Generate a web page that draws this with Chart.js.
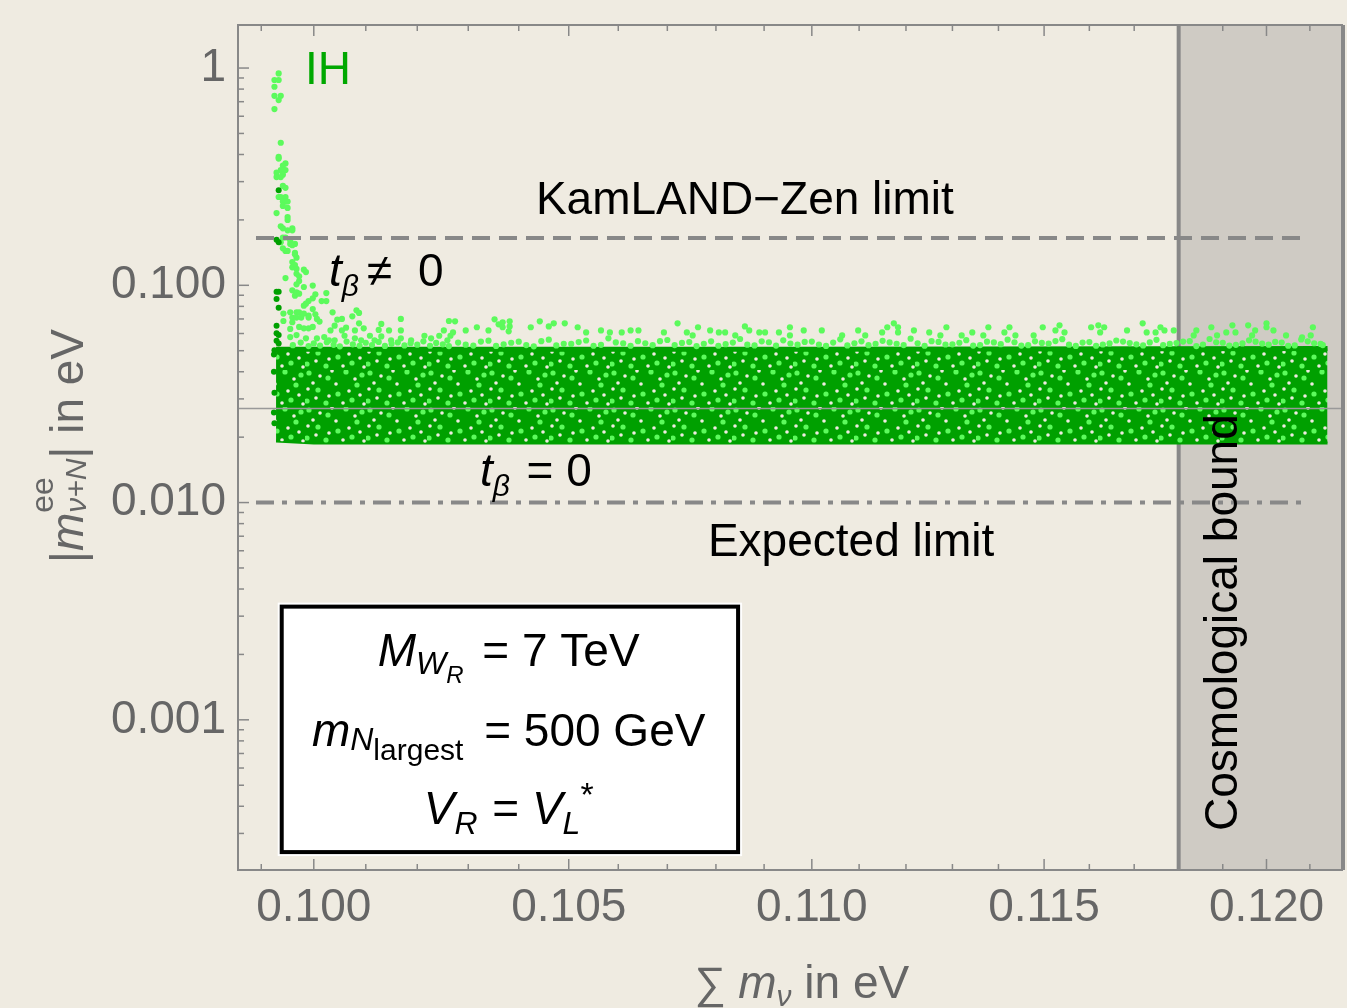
<!DOCTYPE html>
<html>
<head>
<meta charset="utf-8">
<script src="https://cdn.jsdelivr.net/npm/chart.js@4.4.0/dist/chart.umd.min.js"></script>
<style>
  html, body { margin: 0; padding: 0; background: #efebe1; }
  canvas { display: block; }
</style>
</head>
<body>
<canvas id="chart" width="1347" height="1008"></canvas>
<script>
// axis ranges and ticks (both axes logarithmic)
const xRange = [0.09856, 0.12177];
const yRange = [0.0002036, 1.578];
const xTicks = [0.100, 0.105, 0.110, 0.115, 0.120];
const xTickLabels = ["0.100", "0.105", "0.110", "0.115", "0.120"];
const xMinorTicks = [0.099, 0.101, 0.102, 0.103, 0.104, 0.106, 0.107, 0.108, 0.109,
  0.111, 0.112, 0.113, 0.114, 0.116, 0.117, 0.118, 0.119, 0.121];
const yTicks = [0.001, 0.01, 0.1, 1];
const yTickLabels = ["0.001", "0.010", "0.100", "1"];
const yMinorTicks = [0.0003, 0.0004, 0.0005, 0.0006, 0.0007, 0.0008, 0.0009,
  0.002, 0.003, 0.004, 0.005, 0.006, 0.007, 0.008, 0.009,
  0.02, 0.03, 0.04, 0.05, 0.06, 0.07, 0.08, 0.09,
  0.2, 0.3, 0.4, 0.5, 0.6, 0.7, 0.8, 0.9];

// reference lines
const kamlandLimit = 0.165;
const expectedLimit = 0.010;
const limitSpan = [0.0989, 0.1209];
const cosmoBound = 0.118;
const axisOriginY = 0.0271;

// dense t_beta = 0 band (lower / upper edge)
const bandX = [0.09928, 0.1000, 0.1100, 0.12141];
const bandTop = [0.0508, 0.0508, 0.0508, 0.0512];
const bandBottom = [0.0192, 0.0188, 0.0188, 0.0188];

// scattered t_beta != 0 points, [sum m_nu, |m_ee|]
const spikePoints = [
  [0.09933,0.945],[0.09925,0.881],[0.09933,0.881],[0.09925,0.820],[0.09925,0.745],[0.09937,0.745],
  [0.09933,0.712],[0.09925,0.647],[0.09937,0.453],[0.09933,0.390],[0.09933,0.383],[0.09946,0.364],
  [0.09941,0.356],[0.09937,0.339],[0.09946,0.339],[0.09929,0.330],[0.09941,0.323],[0.09929,0.315],
  [0.09937,0.315],[0.09941,0.287],[0.09946,0.281],[0.09933,0.255],[0.09937,0.255],[0.09946,0.255],
  [0.09941,0.243],[0.09946,0.243],[0.09950,0.243],[0.09941,0.232],[0.09950,0.227],[0.09929,0.215],
  [0.09950,0.206],[0.09950,0.200],[0.09937,0.187],[0.09941,0.183],[0.09959,0.183],[0.09950,0.179],
  [0.09959,0.179],[0.09941,0.166],[0.09946,0.166],[0.09937,0.158],[0.09955,0.161],[0.09955,0.155],
  [0.09964,0.155],[0.09941,0.148],[0.09946,0.144],[0.09964,0.141],[0.09967,0.134],[0.09959,0.153],
  [0.09950,0.144],[0.09964,0.139],[0.09959,0.128],[0.09964,0.124],[0.09959,0.121],[0.09967,0.119],
  [0.09981,0.118],[0.09985,0.115],[0.09967,0.113],[0.09972,0.110],[0.09946,0.108],[0.09972,0.1046]
];
const tailPoints = [
  [0.09967,0.101],[0.09998,0.0997],[0.09981,0.0982],[0.09959,0.0948],[0.09967,0.0929],[0.09964,0.0896],
  [0.09972,0.0915],[0.10003,0.0909],[0.09998,0.0871],[0.10024,0.0921],[0.09990,0.0846],[0.09985,0.0823],
  [0.09981,0.0806],[0.10024,0.0846],[0.10015,0.0846],[0.09998,0.0777],[0.10036,0.0751],[0.09955,0.0751],
  [0.09967,0.0751],[0.09972,0.0751],[0.09981,0.0741],[0.09942,0.0741],[0.09990,0.0725],[0.10003,0.0735],
  [0.09959,0.0710],[0.09967,0.0710],[0.09976,0.0710],[0.09990,0.0710],[0.10006,0.0700],[0.10011,0.0681],
  [0.10045,0.0695],[0.10054,0.0700],[0.10074,0.0720],[0.10082,0.0767],[0.10087,0.0746],[0.10168,0.0700],
  [0.10262,0.0685],[0.09942,0.0685],[0.09959,0.0676],[0.09972,0.0643],[0.09981,0.0634],[0.09955,0.0630],
  [0.09990,0.0634],[0.09998,0.0643],[0.10040,0.0652],[0.10062,0.0638],[0.10087,0.0668],[0.10096,0.0634],
  [0.10130,0.0664],[0.10125,0.0623],[0.10145,0.0620],[0.10168,0.0620],[0.10079,0.0620],[0.10054,0.0620],
  [0.10032,0.0620],[0.09955,0.0578],[0.09967,0.0590],[0.09985,0.0570],[0.10006,0.0570],[0.10020,0.0578],
  [0.10029,0.0558],[0.10040,0.0558],[0.10059,0.0586],[0.10079,0.0570],[0.10091,0.0558],[0.10108,0.0586],
  [0.10117,0.0558],[0.10130,0.0582],[0.10149,0.0558],[0.10168,0.0570],[0.10188,0.0558],[0.10214,0.0586],
  [0.10227,0.0570],[0.10243,0.0586],[0.10259,0.0558],[0.10265,0.0586],
  [0.09960,0.0530],[0.09975,0.0545],[0.09990,0.0525],[0.10000,0.0540],[0.10012,0.0528],[0.10025,0.0547],
  [0.10038,0.0532],[0.10050,0.0524],[0.10063,0.0551],[0.10075,0.0535],[0.10088,0.0527],[0.10100,0.0544],
  [0.10112,0.0531],[0.10125,0.0549],[0.10137,0.0526],[0.10150,0.0538],[0.10162,0.0546],[0.10175,0.0529],
  [0.10187,0.0541],[0.10200,0.0533],[0.10212,0.0552],[0.10225,0.0527],[0.10237,0.0543],[0.10250,0.0535],
  [0.10262,0.0525]
];
const fringePoints = [
  [0.10352,0.0697],[0.10368,0.0676],[0.10360,0.0661],[0.10382,0.0683],[0.10382,0.0647],[0.10368,0.0641],
  [0.10380,0.0614],[0.10274,0.0683],[0.10252,0.0620],[0.10270,0.0607],[0.10295,0.0620],[0.10317,0.0641],
  [0.10340,0.0620],[0.10442,0.0683],[0.10424,0.0641],[0.10470,0.0668],[0.10460,0.0647],[0.10492,0.0668],
  [0.10518,0.0641],[0.10535,0.0607],[0.10565,0.0620],[0.10583,0.0607],[0.10607,0.0607],[0.10625,0.0620],
  [0.10641,0.0620],[0.10721,0.0668],[0.10693,0.0607],[0.10763,0.0641],[0.10740,0.0607],[0.10752,0.0588],
  [0.10788,0.0620],[0.10806,0.0607],[0.10819,0.0607],[0.10840,0.0588],
  [0.10860,0.0647],[0.10869,0.0620],[0.10890,0.0607],[0.10902,0.0607],[0.10931,0.0607],[0.10954,0.0641],
  [0.10954,0.0588],[0.10983,0.0620],[0.11021,0.0620],[0.11064,0.0588],[0.11098,0.0620],[0.11113,0.0588],
  [0.11149,0.0607],[0.11174,0.0668],[0.11183,0.0607],[0.11183,0.0641],[0.11160,0.0641],[0.11217,0.0620],
  [0.11250,0.0607],[0.11287,0.0641],[0.11274,0.0588],[0.11320,0.0588],[0.11343,0.0607],[0.11378,0.0641],
  [0.11367,0.0588],[0.11424,0.0641],[0.11413,0.0607],[0.11437,0.0588],
  [0.11497,0.0641],[0.11534,0.0654],[0.11525,0.0620],[0.11477,0.0588],[0.11545,0.0607],[0.11604,0.0641],
  [0.11620,0.0654],[0.11624,0.0607],[0.11633,0.0641],[0.11684,0.0620],[0.11719,0.0668],[0.11728,0.0607],
  [0.11748,0.0607],[0.11759,0.0641],[0.11768,0.0620],[0.11789,0.0620],[0.11840,0.0620],[0.11874,0.0641],
  [0.11834,0.0588],[0.11922,0.0654],[0.11958,0.0654],[0.12000,0.0668],[0.12000,0.0641],[0.11974,0.0620],
  [0.12016,0.0620],[0.12045,0.0588],[0.12082,0.0576],[0.12107,0.0641],[0.12102,0.0588],[0.11908,0.0607],
  [0.11887,0.0588],[0.11967,0.0588],[0.11929,0.0607],
  [0.1028,0.0545],[0.1031,0.0528],[0.1034,0.0556],[0.1037,0.0535],[0.1040,0.0550],[0.1043,0.0524],
  [0.1046,0.0562],[0.1049,0.0538],[0.1052,0.0548],[0.1055,0.0527],[0.1058,0.0570],[0.1061,0.0540],
  [0.1064,0.0553],[0.1067,0.0530],[0.1070,0.0560],[0.1073,0.0543],[0.1076,0.0525],[0.1079,0.0552],
  [0.1082,0.0536],[0.1085,0.0566],[0.1088,0.0529],[0.1091,0.0547],[0.1094,0.0558],[0.1097,0.0533],
  [0.1100,0.0551],[0.1103,0.0526],[0.1106,0.0564],[0.1109,0.0541],[0.1112,0.0530],[0.1115,0.0555],
  [0.1118,0.0538],[0.1121,0.0568],[0.1124,0.0527],[0.1127,0.0549],[0.1130,0.0535],[0.1133,0.0559],
  [0.1136,0.0531],[0.1139,0.0546],[0.1142,0.0562],[0.1145,0.0528],[0.1148,0.0552],[0.1151,0.0539],
  [0.1154,0.0565],[0.1157,0.0526],[0.1160,0.0548],[0.1163,0.0534],[0.1166,0.0557],[0.1169,0.0542],
  [0.1172,0.0529],[0.1175,0.0561],[0.1178,0.0537],[0.1181,0.0551],[0.1184,0.0525],[0.1187,0.0566],
  [0.1190,0.0544],[0.1193,0.0532],[0.1196,0.0558],[0.1199,0.0539],[0.1202,0.0549],[0.1205,0.0527],
  [0.1208,0.0563],[0.1211,0.0541],[0.1213,0.0531],
  [0.10295,0.0533],[0.10325,0.0551],[0.10355,0.0526],[0.10385,0.0544],[0.10415,0.0531],[0.10445,0.0553],
  [0.10475,0.0529],[0.10505,0.0537],[0.10535,0.0557],[0.10565,0.0532],[0.10595,0.0546],[0.10625,0.0527],
  [0.10655,0.0541],[0.10685,0.0553],[0.10715,0.0531],[0.10745,0.0548],[0.10775,0.0538],[0.10805,0.0527],
  [0.10835,0.0545],[0.10865,0.0533],[0.10895,0.0552],[0.10925,0.0528],[0.10955,0.0539],[0.10985,0.0549],
  [0.11015,0.0534],[0.11045,0.0545],[0.11075,0.0529],[0.11105,0.0552],[0.11135,0.0537],[0.11165,0.0546],
  [0.11195,0.0531],[0.11225,0.0541],[0.11255,0.0553],[0.11285,0.0534],[0.11315,0.0544],[0.11345,0.0528],
  [0.11375,0.0550],[0.11405,0.0536],[0.11435,0.0547],[0.11465,0.0530],[0.11495,0.0543],[0.11525,0.0554],
  [0.11555,0.0533],[0.11585,0.0545],[0.11615,0.0527],[0.11645,0.0540],[0.11675,0.0551],[0.11705,0.0535],
  [0.11735,0.0546],[0.11765,0.0530],[0.11795,0.0542],[0.11825,0.0553],[0.11855,0.0534],[0.11885,0.0547],
  [0.11915,0.0528],[0.11945,0.0540],[0.11975,0.0550],[0.12005,0.0533],[0.12035,0.0545],[0.12065,0.0529],
  [0.12095,0.0552],[0.12125,0.0537]
];
// dark green points at the left edge of the band
const edgePoints = [
  [0.09933,0.274],[0.09929,0.162],[0.09933,0.158],[0.09929,0.0935],[0.09933,0.0935],[0.09929,0.0865],
  [0.09933,0.0789],[0.09929,0.0652],[0.09933,0.0590],[0.09929,0.0601],[0.09925,0.0502],[0.09929,0.0555],
  [0.09933,0.0540],[0.09924,0.048],[0.09924,0.040],[0.09925,0.032],[0.09924,0.026],[0.09925,0.0232]
];

const BG = '#efebe1';
const DARK = '#00a000';
const LIGHT = '#5cfa5c';
const GREY = '#888888';
const TEXT_GREY = '#666666';
const FONT = '"Liberation Sans", Arial, sans-serif';
const f = (size, italic) => (italic ? 'italic ' : '') + size + 'px ' + FONT;

const toXY = pts => pts.map(p => ({ x: p[0], y: p[1] }));

// speckled fill for the dense band (coarse, like overlapping dots)
function bandPattern() {
  const t = document.createElement('canvas');
  t.width = 61; t.height = 37;
  const g = t.getContext('2d');
  g.fillStyle = DARK;
  g.fillRect(0, 0, 61, 37);
  g.fillStyle = LIGHT;
  [[4, 3], [23, 8], [41, 2], [13, 20], [33, 24], [52, 15], [2, 31], [21, 33], [47, 30], [57, 5]].forEach(([a, b]) => {
    g.beginPath(); g.arc(a, b, 2.6, 0, 7); g.fill();
  });
  g.fillStyle = BG;
  [[15, 6], [31, 14], [8, 13], [44, 21], [27, 1], [55, 25], [11, 28], [38, 33], [24, 26], [50, 9], [59, 34], [3, 19]].forEach(([a, b]) => {
    g.beginPath(); g.arc(a, b, 1.8, 0, 7); g.fill();
  });
  return g.createPattern(t, 'repeat');
}

// rich text: segments drawn left to right, "same" stacks on the previous segment
function drawRich(ctx, segs, x, y, align, color) {
  let prevStart = 0, prevEnd = 0;
  const items = segs.map(s => {
    ctx.font = s.font;
    const w = ctx.measureText(s.t).width;
    let start;
    if (s.same) { start = prevStart; prevEnd = Math.max(prevEnd, start + w); }
    else { start = prevEnd + (s.dx || 0); prevStart = start; prevEnd = start + w; }
    return { s, start };
  });
  const x0 = align === 'center' ? x - prevEnd / 2 : x;
  ctx.fillStyle = color;
  ctx.textAlign = 'left';
  ctx.textBaseline = 'alphabetic';
  items.forEach(({ s, start }) => {
    ctx.font = s.font;
    ctx.fillText(s.t, x0 + start, y + (s.dy || 0));
  });
}

const decor = {
  id: 'decor',
  beforeDraw(chart) {
    const c = chart.ctx;
    c.save();
    c.fillStyle = BG;
    c.fillRect(0, 0, chart.width, chart.height);
    c.restore();
  },
  afterDatasetsDraw(chart) {
    const c = chart.ctx, a = chart.chartArea;
    const xs = chart.scales.x, ys = chart.scales.y;
    const X = v => xs.getPixelForValue(v), Y = v => ys.getPixelForValue(v);
    c.save();

    // annotations
    drawRich(c, [{ t: 'IH', font: f(46) }], X(0.09983), Y(0.844), 'left', '#00a800');
    drawRich(c, [{ t: 'KamLAND\u2212Zen limit', font: f(46) }], X(0.1086), Y(0.212), 'center', '#000');
    drawRich(c, [
      { t: 't', font: f(46, true) },
      { t: '\u03b2', font: f(30, true), dy: 10 },
      { t: '\u2260', font: f(46), dx: 8 },
      { t: '0', font: f(46), dx: 26 }
    ], X(0.10029), Y(0.0997), 'left', '#000');
    drawRich(c, [
      { t: 't', font: f(46, true) },
      { t: '\u03b2', font: f(30, true), dy: 10 },
      { t: ' = 0', font: f(46), dx: 4 }
    ], X(0.10323), Y(0.01197), 'left', '#000');
    drawRich(c, [{ t: 'Expected limit', font: f(46) }], X(0.11083), Y(0.0057), 'center', '#000');

    c.save();
    c.translate(X(0.11932), Y(0.0028));
    c.rotate(-Math.PI / 2);
    drawRich(c, [{ t: 'Cosmological bound', font: f(46) }], 0, 0, 'center', '#000');
    c.restore();

    // parameter box
    const bx0 = X(0.09935), bx1 = X(0.1085), by0 = Y(0.00339), by1 = Y(0.000241);
    c.fillStyle = '#ffffff';
    c.fillRect(bx0 - 2, by0 - 2, bx1 - bx0 + 4, by1 - by0 + 4);
    c.strokeStyle = '#000';
    c.lineWidth = 4;
    c.strokeRect(bx0 + 2, by0 + 2, bx1 - bx0 - 4, by1 - by0 - 4);
    const bc = X(0.1038);
    drawRich(c, [
      { t: 'M', font: f(46, true) },
      { t: 'W', font: f(32, true), dy: 8 },
      { t: 'R', font: f(24, true), dy: 17 },
      { t: ' = 7 TeV', font: f(46), dx: 6 }
    ], bc, Y(0.001774), 'center', '#000');
    drawRich(c, [
      { t: 'm', font: f(46, true) },
      { t: 'N', font: f(32, true), dy: 4 },
      { t: 'largest', font: f(30), dy: 14 },
      { t: ' = 500 GeV', font: f(46), dx: 8 }
    ], bc, Y(0.000759), 'center', '#000');
    drawRich(c, [
      { t: 'V', font: f(46, true) },
      { t: 'R', font: f(32, true), dy: 10 },
      { t: ' = ', font: f(46), dx: 2 },
      { t: 'V', font: f(46, true) },
      { t: 'L', font: f(32, true), dy: 10 },
      { t: '*', font: f(34), dy: -18 }
    ], bc, Y(0.000332), 'center', '#000');

    // frame
    c.strokeStyle = GREY;
    c.lineWidth = 2;
    c.beginPath();
    c.moveTo(a.right, a.top); c.lineTo(a.left, a.top);
    c.lineTo(a.left, a.bottom); c.lineTo(a.right, a.bottom);
    c.stroke();
    c.lineWidth = 4;
    c.beginPath(); c.moveTo(a.right, a.top); c.lineTo(a.right, a.bottom); c.stroke();

    // inward ticks
    c.lineWidth = 1.5;
    const seg = (x1, y1, x2, y2) => { c.beginPath(); c.moveTo(x1, y1); c.lineTo(x2, y2); c.stroke(); };
    xTicks.forEach(v => { const p = X(v); seg(p, a.bottom, p, a.bottom - 11); seg(p, a.top, p, a.top + 11); });
    xMinorTicks.forEach(v => { const p = X(v); seg(p, a.bottom, p, a.bottom - 6); seg(p, a.top, p, a.top + 6); });
    yTicks.forEach(v => { const p = Y(v); seg(a.left, p, a.left + 11, p); });
    yMinorTicks.forEach(v => { const p = Y(v); seg(a.left, p, a.left + 6, p); });

    c.restore();
  },
  afterDraw(chart) {
    const c = chart.ctx, a = chart.chartArea;
    c.save();
    // x axis title
    drawRich(c, [
      { t: '\u2211', font: f(44) },
      { t: 'm', font: f(46, true), dx: 12 },
      { t: '\u03bd', font: f(30, true), dy: 8 },
      { t: ' in eV', font: f(46) }
    ], 802, a.bottom + 128, 'center', TEXT_GREY);
    // y axis title
    c.translate(83, 446);
    c.rotate(-Math.PI / 2);
    drawRich(c, [
      { t: '|', font: f(46) },
      { t: 'm', font: f(46, true) },
      { t: 'ee', font: f(32), dy: -30 },
      { t: '\u03bd+N', font: f(30, true), dy: 3, same: true },
      { t: '| in eV', font: f(46) }
    ], 0, 0, 'center', TEXT_GREY);
    c.restore();
  }
};

const yTop = yRange[1], yBot = yRange[0];

new Chart(document.getElementById('chart'), {
  type: 'scatter',
  data: {
    datasets: [
      {
        type: 'line', order: 20,
        data: [{ x: cosmoBound, y: yTop }, { x: xRange[1], y: yTop }],
        fill: 'start', backgroundColor: '#cfcbc4', borderWidth: 0, pointRadius: 0
      },
      {
        type: 'line', order: 19,
        data: [{ x: cosmoBound, y: yBot }, { x: cosmoBound, y: yTop }],
        borderColor: GREY, borderWidth: 4, pointRadius: 0, fill: false
      },
      {
        type: 'line', order: 15,
        data: bandX.map((x, i) => ({ x, y: bandTop[i] })),
        fill: '+1', backgroundColor: bandPattern(), borderColor: DARK, borderWidth: 5, pointRadius: 0
      },
      {
        type: 'line', order: 15,
        data: bandX.map((x, i) => ({ x, y: bandBottom[i] })),
        borderColor: DARK, borderWidth: 3, pointRadius: 0, fill: false
      },
      {
        order: 12,
        data: toXY(spikePoints.concat(tailPoints, fringePoints)),
        backgroundColor: LIGHT, pointRadius: 3.1, pointBorderWidth: 0
      },
      {
        order: 11,
        data: toXY(edgePoints),
        backgroundColor: DARK, pointRadius: 3, pointBorderWidth: 0
      },
      {
        type: 'line', order: 4,
        data: [{ x: xRange[0], y: axisOriginY }, { x: xRange[1], y: axisOriginY }],
        borderColor: '#999999', borderWidth: 1.5, pointRadius: 0, fill: false
      },
      {
        type: 'line', order: 3,
        data: [{ x: limitSpan[0], y: kamlandLimit }, { x: limitSpan[1], y: kamlandLimit }],
        borderColor: GREY, borderWidth: 4, borderDash: [18, 9], pointRadius: 0, fill: false
      },
      {
        type: 'line', order: 3,
        data: [{ x: limitSpan[0], y: expectedLimit }, { x: limitSpan[1], y: expectedLimit }],
        borderColor: GREY, borderWidth: 4, borderDash: [18, 8, 5, 8], pointRadius: 0, fill: false
      }
    ]
  },
  options: {
    responsive: false,
    animation: false,
    devicePixelRatio: 1,
    layout: { padding: { top: 25, right: 4, left: 0, bottom: 0 } },
    plugins: { legend: { display: false }, tooltip: { enabled: false } },
    scales: {
      x: {
        type: 'logarithmic',
        min: xRange[0], max: xRange[1],
        afterBuildTicks: s => { s.ticks = xTicks.map(v => ({ value: v })); },
        afterFit: s => { s.height = 138; s.paddingLeft = 0; s.paddingRight = 0; },
        grid: { display: false, drawTicks: false },
        border: { display: false },
        ticks: {
          autoSkip: false, maxRotation: 0, padding: 11,
          color: TEXT_GREY, font: { family: FONT, size: 46 },
          callback: (v, i) => xTickLabels[i]
        }
      },
      y: {
        type: 'logarithmic',
        min: yRange[0], max: yRange[1],
        afterBuildTicks: s => { s.ticks = yTicks.map(v => ({ value: v })); },
        afterFit: s => { s.width = 238; s.paddingTop = 0; s.paddingBottom = 0; },
        grid: { display: false, drawTicks: false },
        border: { display: false },
        ticks: {
          autoSkip: false, padding: 12,
          color: TEXT_GREY, font: { family: FONT, size: 46 },
          callback: (v, i) => yTickLabels[i]
        }
      }
    }
  },
  plugins: [decor]
});
</script>
</body>
</html>
